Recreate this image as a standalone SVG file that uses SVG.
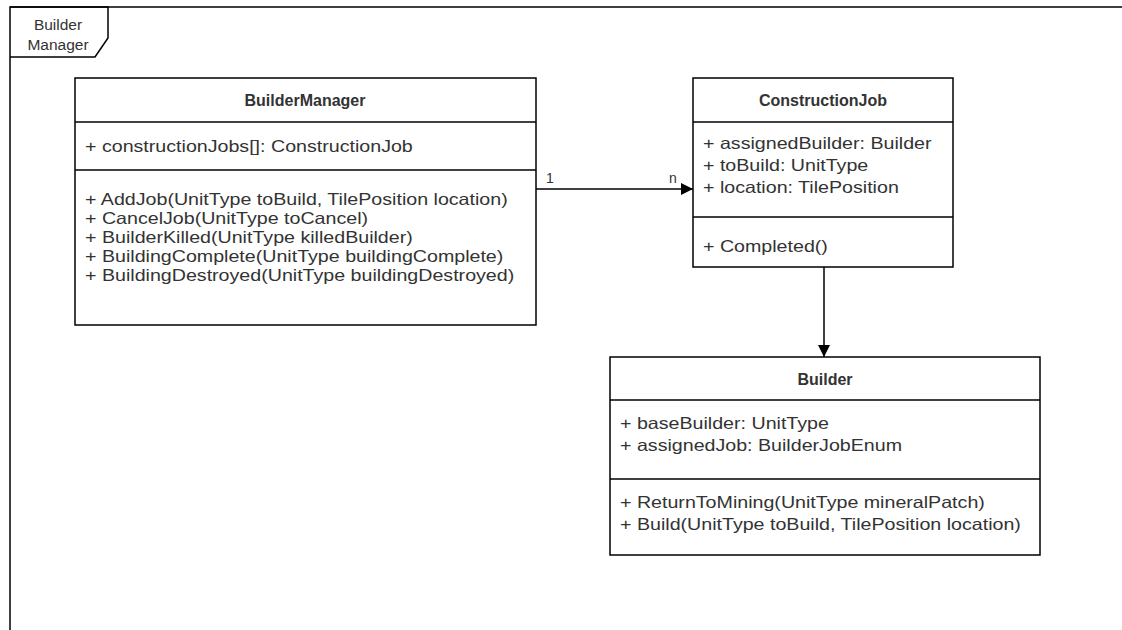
<svg xmlns="http://www.w3.org/2000/svg" width="1122" height="630" viewBox="0 0 1122 630">
<defs>
<style>
.box{fill:#fff;stroke:#000;stroke-width:1.5}
.ln{stroke:#000;stroke-width:1.5;fill:none}
.t{font-family:"Liberation Sans",Arial,sans-serif;font-size:16.5px;fill:#333}
.h{font-family:"Liberation Sans",Arial,sans-serif;font-size:16px;font-weight:bold;fill:#333;text-anchor:middle}
.lbl{font-family:"Liberation Sans",Arial,sans-serif;font-size:15.5px;fill:#333}
.m{font-family:"Liberation Sans",Arial,sans-serif;font-size:14px;fill:#333}
</style>
<marker id="arr" viewBox="0 0 12 12" refX="12" refY="6" markerWidth="12" markerHeight="12" markerUnits="userSpaceOnUse" orient="auto">
<path d="M0,0 L12,6 L0,12 Z" fill="#000"/>
</marker>
</defs>
<rect width="1122" height="630" fill="#fff"/>
<g id="frame">
<path class="ln" d="M10,630 L10,7 L1122,7"/>
<path class="ln" d="M10,7 L108,7 L108,38 L95,57 L10,57"/>
<text class="lbl" x="58" y="30" text-anchor="middle">Builder</text>
<text class="lbl" x="58" y="50" text-anchor="middle">Manager</text>
</g>
<g id="connectors">
<line class="ln" x1="536" y1="189" x2="693" y2="189" marker-end="url(#arr)"/>
<text class="m" x="546" y="183">1</text>
<text class="m" x="669" y="183">n</text>
<line class="ln" x1="824" y1="267" x2="824" y2="357" marker-end="url(#arr)"/>
</g>
<g id="BuilderManager">
<rect class="box" x="75" y="78" width="461" height="247"/>
<line class="ln" x1="75" y1="122" x2="536" y2="122"/>
<line class="ln" x1="75" y1="170" x2="536" y2="170"/>
<text class="h" x="305" y="106">BuilderManager</text>
<g transform="translate(85,0) scale(1.19,1)">
<text class="t" x="0" y="152">+ constructionJobs[]: ConstructionJob</text>
<text class="t" x="0" y="205">+ AddJob(UnitType toBuild, TilePosition location)</text>
<text class="t" x="0" y="224">+ CancelJob(UnitType toCancel)</text>
<text class="t" x="0" y="243">+ BuilderKilled(UnitType killedBuilder)</text>
<text class="t" x="0" y="262">+ BuildingComplete(UnitType buildingComplete)</text>
<text class="t" x="0" y="281">+ BuildingDestroyed(UnitType buildingDestroyed)</text>
</g>
</g>
<g id="ConstructionJob">
<rect class="box" x="693" y="78" width="260" height="189"/>
<line class="ln" x1="693" y1="122" x2="953" y2="122"/>
<line class="ln" x1="693" y1="217" x2="953" y2="217"/>
<text class="h" x="823" y="106">ConstructionJob</text>
<g transform="translate(703,0) scale(1.19,1)">
<text class="t" x="0" y="149">+ assignedBuilder: Builder</text>
<text class="t" x="0" y="171">+ toBuild: UnitType</text>
<text class="t" x="0" y="193">+ location: TilePosition</text>
<text class="t" x="0" y="252">+ Completed()</text>
</g>
</g>
<g id="Builder">
<rect class="box" x="610" y="357" width="430" height="198"/>
<line class="ln" x1="610" y1="400" x2="1040" y2="400"/>
<line class="ln" x1="610" y1="479" x2="1040" y2="479"/>
<text class="h" x="825" y="385">Builder</text>
<g transform="translate(620,0) scale(1.19,1)">
<text class="t" x="0" y="429">+ baseBuilder: UnitType</text>
<text class="t" x="0" y="451">+ assignedJob: BuilderJobEnum</text>
<text class="t" x="0" y="508">+ ReturnToMining(UnitType mineralPatch)</text>
<text class="t" x="0" y="530">+ Build(UnitType toBuild, TilePosition location)</text>
</g>
</g>
</svg>
